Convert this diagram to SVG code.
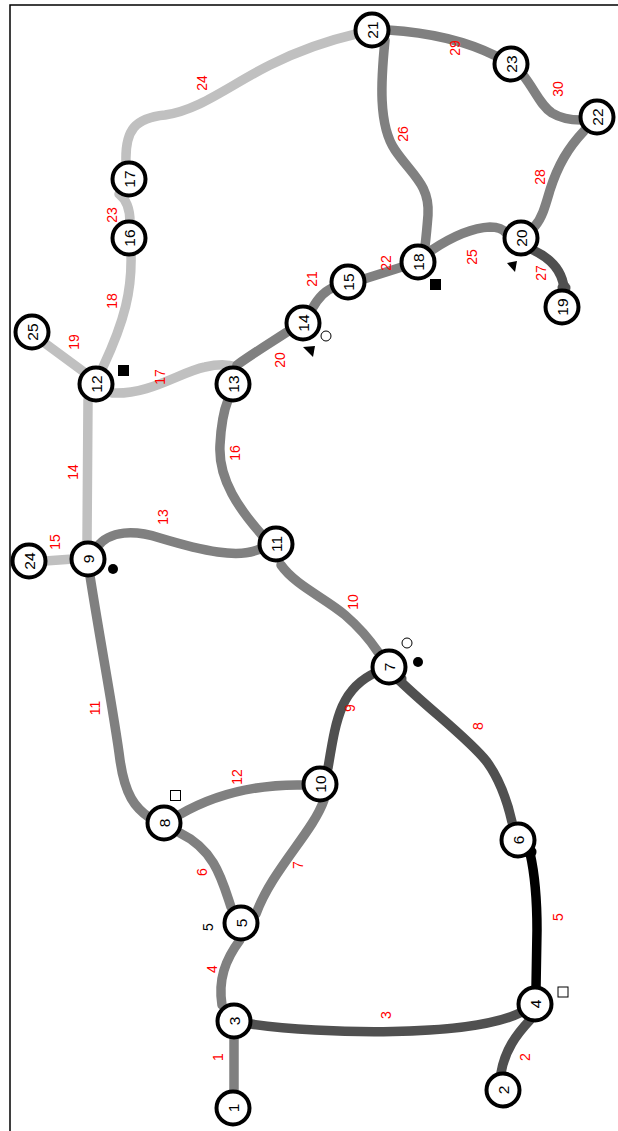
<svg xmlns="http://www.w3.org/2000/svg" width="618" height="1131" viewBox="0 0 618 1131">
<style>
.e{fill:none;stroke-width:9.5;stroke-linecap:round;stroke-linejoin:round}
.l{stroke:#c0c0c0}
.m{stroke:#808080}
.d{stroke:#505050}
.k{stroke:#000}
.n circle{fill:#fff;stroke:#000;stroke-width:4}
.n text{font-family:"Liberation Sans",Arial,sans-serif;font-size:15.5px;fill:#000;text-anchor:middle;dominant-baseline:central}
.lb{font-family:"Liberation Sans",Arial,sans-serif;font-size:14px;fill:#ff0000;text-anchor:middle;dominant-baseline:central}
</style>
<rect width="618" height="1131" fill="#fff"/>
<path d="M10,1131 V5 H618" fill="none" stroke="#000" stroke-width="1.5"/>
<g id="connectors">
<path id="e1" class="e m" d="M234,1037 L234,1092"/>
<path id="e2" class="e d" d="M530,1020 C516,1035 505,1050 501,1073"/>
<path id="e3" class="e d" d="M251,1024 C320,1034 470,1038 522,1012"/>
<path id="e4" class="e m" d="M222,1005 C218,980 225,960 240,940"/>
<path id="e5" class="e k" d="M536,988 L537,930 C537,900 535,875 530,853"/>
<circle cx="530" cy="852" r="6.5" fill="#000"/>
<path id="e6" class="e m" d="M231,907 C222,880 215,850 180,833"/>
<path id="e7" class="e m" d="M256,914 C272,870 313,832 324,800"/>
<path id="e8" class="e d" d="M400,681 C430,710 470,740 487,762 C500,780 507,800 512,822"/>
<circle cx="400" cy="679" r="6.5" fill="#505050"/>
<path id="e9" class="e d" d="M328,768 C336,720 340,688 377,672"/>
<path id="e10" class="e m" d="M281,565 C295,585 325,598 345,615 C360,628 370,640 378,652"/>
<path id="e11" class="e m" d="M90,576 C100,640 115,720 120,760 C125,795 135,808 150,818"/>
<path id="e12" class="e m" d="M179,815 C210,797 250,784 303,785"/>
<path id="e13" class="e m" d="M97,547 C110,530 135,530 160,538 C200,550 240,560 262,548"/>
<path id="e14" class="e l" d="M88,400 L87,543"/>
<path id="e15" class="e l" d="M45,561 L73,559"/>
<path id="e16" class="e m" d="M262,535 C240,510 218,480 220,445 C221,425 224,410 228,400"/>
<path id="e17" class="e l" d="M112,393 C150,395 180,372 205,367 C218,364 228,364 236,367"/>
<path id="e18" class="e l" d="M131,254 C132,290 125,320 103,367"/>
<path id="e19" class="e l" d="M46,344 L84,372"/>
<path id="e20" class="e m" d="M237,365 C255,352 275,340 290,330"/>
<path id="e21" class="e m" d="M312,309 C318,298 325,290 335,287"/>
<path id="e22" class="e m" d="M364,279 L402,267"/>
<path id="e23" class="e l" d="M119,194 C127,200 130,210 130,222"/>
<path id="e24" class="e l" d="M126,162 C125,130 135,118 165,115 C200,110 230,85 270,65 C300,50 330,40 356,34"/>
<path id="e25" class="e m" d="M432,250 C450,238 470,228 490,227 C498,227 503,229 506,233"/>
<path id="e26" class="e m" d="M385,40 C381,80 378,125 395,150 C412,175 430,185 428,215 C427,228 426,238 425,246"/>
<path id="e27" class="e d" d="M533,250 C550,258 562,270 564,288"/>
<circle cx="564" cy="288" r="6.5" fill="#505050"/>
<path id="e28" class="e m" d="M584,131 C568,148 558,165 550,190 C545,207 542,218 535,226"/>
<path id="e29" class="e m" d="M388,30 C420,32 460,38 496,56"/>
<path id="e30" class="e m" d="M523,75 C535,90 540,105 552,113 C562,119 572,120 581,120"/>
</g>
<g id="edge-labels">
<text class="lb" transform="translate(218,1057) rotate(-90)">1</text>
<text class="lb" transform="translate(525,1057) rotate(-90)">2</text>
<text class="lb" transform="translate(386,1015) rotate(-90)">3</text>
<text class="lb" transform="translate(212,969) rotate(-90)">4</text>
<text class="lb" transform="translate(558,917) rotate(-90)">5</text>
<text class="lb" transform="translate(202,872) rotate(-90)">6</text>
<text class="lb" transform="translate(298,865) rotate(-90)">7</text>
<text class="lb" transform="translate(478,726) rotate(-90)">8</text>
<text class="lb" transform="translate(350,708) rotate(-90)">9</text>
<text class="lb" transform="translate(353,602) rotate(-90)">10</text>
<text class="lb" transform="translate(95,708) rotate(-90)">11</text>
<text class="lb" transform="translate(237,777) rotate(-90)">12</text>
<text class="lb" transform="translate(163,517) rotate(-90)">13</text>
<text class="lb" transform="translate(73,472) rotate(-90)">14</text>
<text class="lb" transform="translate(55,542) rotate(-90)">15</text>
<text class="lb" transform="translate(235,453) rotate(-90)">16</text>
<text class="lb" transform="translate(160,377) rotate(-90)">17</text>
<text class="lb" transform="translate(112,301) rotate(-90)">18</text>
<text class="lb" transform="translate(74,342) rotate(-90)">19</text>
<text class="lb" transform="translate(280,360) rotate(-90)">20</text>
<text class="lb" transform="translate(312,279) rotate(-90)">21</text>
<text class="lb" transform="translate(386,263) rotate(-90)">22</text>
<text class="lb" transform="translate(112,215) rotate(-90)">23</text>
<text class="lb" transform="translate(202,83) rotate(-90)">24</text>
<text class="lb" transform="translate(472,257) rotate(-90)">25</text>
<text class="lb" transform="translate(403,134) rotate(-90)">26</text>
<text class="lb" transform="translate(541,273) rotate(-90)">27</text>
<text class="lb" transform="translate(540,177) rotate(-90)">28</text>
<text class="lb" transform="translate(455,48) rotate(-90)">29</text>
<text class="lb" transform="translate(558,89) rotate(-90)">30</text>
</g>
<g id="node1" class="n"><circle cx="233" cy="1108" r="16.5"/><text transform="translate(233,1108) rotate(-90)">1</text></g>
<g id="node2" class="n"><circle cx="503" cy="1090" r="16.5"/><text transform="translate(503,1090) rotate(-90)">2</text></g>
<g id="node3" class="n"><circle cx="234" cy="1021" r="16.5"/><text transform="translate(234,1021) rotate(-90)">3</text></g>
<g id="node4" class="n"><circle cx="535" cy="1004" r="16.5"/><text transform="translate(535,1004) rotate(-90)">4</text></g>
<g id="node5" class="n"><circle cx="241" cy="923" r="16.5"/><text transform="translate(241,923) rotate(-90)">5</text></g>
<g id="node6" class="n"><circle cx="518" cy="840" r="16.5"/><text transform="translate(518,840) rotate(-90)">6</text></g>
<g id="node7" class="n"><circle cx="389" cy="667" r="16.5"/><text transform="translate(389,667) rotate(-90)">7</text></g>
<g id="node8" class="n"><circle cx="164" cy="823" r="16.5"/><text transform="translate(164,823) rotate(-90)">8</text></g>
<g id="node9" class="n"><circle cx="88" cy="559" r="16.5"/><text transform="translate(88,559) rotate(-90)">9</text></g>
<g id="node10" class="n"><circle cx="320" cy="784" r="16.5"/><text transform="translate(320,784) rotate(-90)">10</text></g>
<g id="node11" class="n"><circle cx="276" cy="544" r="16.5"/><text transform="translate(276,544) rotate(-90)">11</text></g>
<g id="node12" class="n"><circle cx="96" cy="384" r="16.5"/><text transform="translate(96,384) rotate(-90)">12</text></g>
<g id="node13" class="n"><circle cx="233" cy="384" r="16.5"/><text transform="translate(233,384) rotate(-90)">13</text></g>
<g id="node14" class="n"><circle cx="303" cy="323" r="16.5"/><text transform="translate(303,323) rotate(-90)">14</text></g>
<g id="node15" class="n"><circle cx="348" cy="282" r="16.5"/><text transform="translate(348,282) rotate(-90)">15</text></g>
<g id="node16" class="n"><circle cx="129" cy="238" r="16.5"/><text transform="translate(129,238) rotate(-90)">16</text></g>
<g id="node17" class="n"><circle cx="129" cy="179" r="16.5"/><text transform="translate(129,179) rotate(-90)">17</text></g>
<g id="node18" class="n"><circle cx="418" cy="262" r="16.5"/><text transform="translate(418,262) rotate(-90)">18</text></g>
<g id="node19" class="n"><circle cx="562" cy="307" r="16.5"/><text transform="translate(562,307) rotate(-90)">19</text></g>
<g id="node20" class="n"><circle cx="521" cy="238" r="16.5"/><text transform="translate(521,238) rotate(-90)">20</text></g>
<g id="node21" class="n"><circle cx="372" cy="30" r="16.5"/><text transform="translate(372,30) rotate(-90)">21</text></g>
<g id="node22" class="n"><circle cx="597" cy="117" r="16.5"/><text transform="translate(597,117) rotate(-90)">22</text></g>
<g id="node23" class="n"><circle cx="511" cy="64" r="16.5"/><text transform="translate(511,64) rotate(-90)">23</text></g>
<g id="node24" class="n"><circle cx="29" cy="561" r="16.5"/><text transform="translate(29,561) rotate(-90)">24</text></g>
<g id="node25" class="n"><circle cx="32" cy="332" r="16.5"/><text transform="translate(32,332) rotate(-90)">25</text></g>
<g id="markers">
<rect x="558" y="987" width="10" height="10" fill="#fff" stroke="#000" stroke-width="1"/>
<rect x="170.5" y="790.5" width="10" height="10" fill="#fff" stroke="#000" stroke-width="1"/>
<circle cx="113" cy="569" r="5" fill="#000"/>
<circle cx="407" cy="643" r="5" fill="#fff" stroke="#000" stroke-width="1"/>
<circle cx="418" cy="662" r="5" fill="#000"/>
<rect x="118" y="365" width="11" height="11" fill="#000"/>
<circle cx="326" cy="336" r="5" fill="#fff" stroke="#000" stroke-width="1"/>
<polygon points="303,347 315,346 313,357" fill="#000"/>
<polygon points="507,263 517,261 515,272" fill="#000"/>
<rect x="430" y="279" width="11" height="11" fill="#000"/>
<text transform="translate(208,927) rotate(-90)" font-family="Liberation Sans, Arial, sans-serif" font-size="14" fill="#000" text-anchor="middle" dominant-baseline="central">5</text>
</g>
</svg>
